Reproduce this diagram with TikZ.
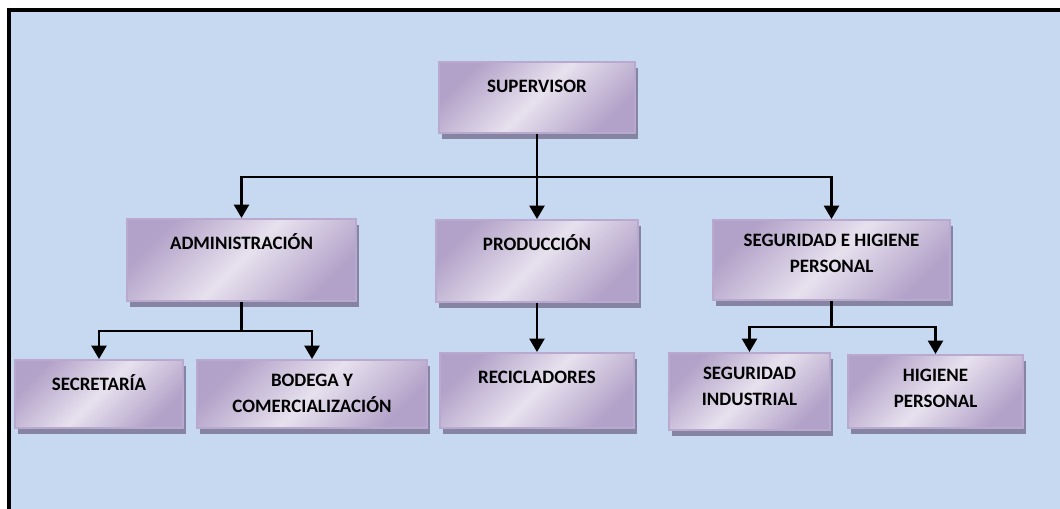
\documentclass[tikz,border=0pt]{standalone}
\usepackage{fontspec}
\setmainfont{Carlito}
\definecolor{Fondo}{HTML}{C6D9F0}
\definecolor{LavOscuro}{HTML}{B2A1C8}
\definecolor{LavClaro}{HTML}{E7E1EE}
\definecolor{LavBorde}{HTML}{B9A9CF}
\definecolor{Sombra}{HTML}{8585A3}
\usetikzlibrary{arrows.meta, positioning, fit, shadows}

\begin{document}
\begin{tikzpicture}[
  x=0.75pt, y=-0.75pt,
  unidad/.style={draw=LavBorde, line width=1.4pt, inner sep=0pt,
    left color=LavOscuro, right color=LavOscuro, middle color=LavClaro, shading angle=45,
    drop shadow={shadow xshift=2.5pt, shadow yshift=-4.5pt, fill=Sombra, opacity=1}},
  etiqueta/.style={anchor=north, yshift=-11.4pt, inner sep=0pt, align=center,
    execute at begin node={\rule{0pt}{12pt}},
    font=\fontsize{14.2}{19.5}\selectfont\bfseries},
  linea/.style={line width=2.2pt},
  flecha/.style={linea, -{Triangle[width=11pt, length=10pt]}}
]
  % fondo y marco
  \useasboundingbox (0,0) rectangle (1060,509);
  \fill[white] (0,0) rectangle (1060,509);
  \fill[Fondo] (9,10.5) rectangle (1060,509);
  \draw[line width=3pt] (9,509) -- (9,10.5) -- (1060,10.5);

  % cajas
  \node[unidad, fit={(439,62) (635,133)}, label={[etiqueta, name=sup-t]north:SUPERVISOR}] (sup) {};
  \node[unidad, fit={(127,219) (356,301)}, label={[etiqueta, name=adm-t]north:ADMINISTRACIÓN}] (adm) {};
  \node[unidad, fit={(436,220) (638,302)}, label={[etiqueta, name=prod-t]north:PRODUCCIÓN}] (prod) {};
  \node[unidad, fit={(713,220) (950,300)}, label={[etiqueta, name=seg-t]north:SEGURIDAD E HIGIENE\\PERSONAL}] (seg) {};
  \node[unidad, fit={(15,360) (183,428)}, label={[etiqueta, name=sec-t]north:SECRETARÍA}] (sec) {};
  \node[unidad, fit={(197,360) (427,428)}, label={[etiqueta, name=bod-t]north:BODEGA Y\\COMERCIALIZACIÓN}] (bod) {};
  \node[unidad, fit={(440,353) (634,428)}, label={[etiqueta, name=rec-t]north:RECICLADORES}] (rec) {};
  \node[unidad, fit={(669,353) (830,430)}, label={[etiqueta, name=sind-t]north:SEGURIDAD\\INDUSTRIAL}] (sind) {};
  \node[unidad, fit={(848,355) (1023,428)}, label={[etiqueta, name=hig-t]north:HIGIENE\\PERSONAL}] (hig) {};

  % conectores
  \coordinate (b1) at (sup.south |- 0,177);
  \coordinate (b2) at (adm.south |- 0,331);
  \coordinate (b3) at (seg.south |- 0,327);
  \draw[linea] (sup.south) -- (b1);
  \foreach \h in {adm,prod,seg}
    \draw[flecha] (b1) -| (\h.north);
  \draw[linea] (adm.south) -- (b2);
  \foreach \h in {sec,bod}
    \draw[flecha] (b2) -| (\h.north);
  \draw[flecha] (prod.south) -- (rec.north);
  \draw[linea] (seg.south) -- (b3);
  \foreach \h in {sind,hig}
    \draw[flecha] (b3) -| (\h.north);
\end{tikzpicture}
\end{document}
